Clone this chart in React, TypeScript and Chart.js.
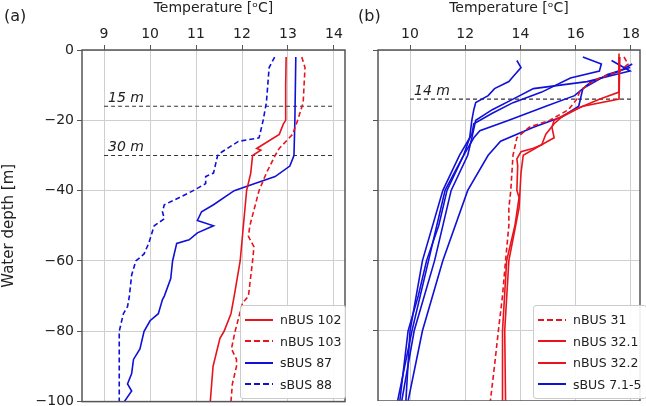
import React, { useEffect, useRef } from "react";
import { Chart, registerables } from "chart.js";

Chart.register(...registerables);

const FONT = "'DejaVu Sans', sans-serif";
const RED = "#e8141c";
const BLUE = "#1010d8";

// panel (a) profiles: [temperature, depth]
const nBus102: number[][] = [
  [12.96, -2], [12.95, -10], [12.95, -20], [12.9, -21], [12.81, -24], [12.32, -28], [12.41, -28.5],
  [12.23, -30], [12.19, -35], [12.1, -40], [12.03, -50], [11.96, -60], [11.83, -70], [11.76, -75],
  [11.61, -80], [11.52, -82], [11.37, -90], [11.34, -95], [11.31, -100],
];
const nBus103: number[][] = [
  [13.3, -2], [13.37, -5], [13.33, -15], [13.21, -20], [13.1, -24], [12.81, -28], [12.72, -30],
  [12.53, -35], [12.37, -40], [12.17, -50], [12.14, -53], [12.26, -56], [12.23, -60], [12.14, -70],
  [12.01, -72], [11.85, -80], [11.77, -85], [11.88, -88], [11.88, -90], [11.79, -95], [11.76, -100],
];
const sBus87: number[][] = [
  [13.17, -2], [13.15, -20], [13.13, -30], [13.04, -33], [12.72, -36], [12.28, -38], [11.83, -40],
  [11.38, -44], [11.12, -46], [11.03, -48.5], [11.38, -50], [11.03, -52], [10.85, -54], [10.58, -55],
  [10.49, -60], [10.45, -65], [10.31, -70], [10.27, -71], [10.18, -75], [10.0, -77], [9.87, -80],
  [9.78, -85], [9.64, -88], [9.6, -92], [9.51, -95], [9.6, -97], [9.44, -100],
];
const sBus88: number[][] = [
  [12.71, -2], [12.59, -5], [12.53, -15], [12.46, -20], [12.37, -25], [11.92, -26], [11.56, -29],
  [11.47, -30], [11.38, -35], [11.21, -36], [11.21, -38], [10.94, -40], [10.63, -42], [10.31, -44],
  [10.27, -46], [10.31, -48], [10.09, -50], [9.97, -55], [9.87, -58], [9.69, -60], [9.6, -64],
  [9.55, -70], [9.51, -73], [9.42, -75], [9.33, -80], [9.33, -90], [9.33, -100],
];

// panel (b) profiles
const nBus31: number[][] = [
  [17.75, -2], [17.9, -4], [17.6, -6], [16.86, -8], [16.41, -10], [16.14, -12], [16.04, -14],
  [15.74, -17], [15.07, -20], [14.32, -22], [13.87, -25], [13.73, -30], [13.65, -40], [13.58, -45],
  [13.58, -50], [13.46, -60], [13.35, -70], [13.2, -80], [13.06, -90], [12.91, -100],
];
const nBus321: number[][] = [
  [17.57, -1], [17.57, -5], [17.57, -12], [16.86, -14], [15.96, -17], [15.22, -20], [15.14, -22],
  [15.22, -25], [14.99, -26], [14.77, -27], [14.47, -28], [14.02, -29], [13.87, -31], [13.9, -33],
  [13.87, -40], [13.95, -42], [13.8, -50], [13.5, -60], [13.35, -80], [13.35, -100],
];
const nBus322: number[][] = [
  [17.6, -2], [17.57, -14], [16.26, -16], [15.51, -19], [15.22, -21], [14.92, -24], [14.77, -27],
  [14.1, -30], [14.02, -35], [13.95, -45], [13.58, -60], [13.43, -80], [13.46, -100],
];
const sBus71to5: number[][][] = [
  [[13.87, -3], [14.02, -5], [13.8, -7], [13.58, -9], [13.06, -11], [12.83, -13], [12.38, -15],
    [12.31, -17], [12.24, -20], [12.16, -25], [11.94, -30], [11.34, -40], [11.04, -50], [10.6, -60],
    [10.3, -70], [9.93, -80], [9.78, -90], [9.63, -100]],
  [[16.26, -2], [16.93, -4], [16.86, -6], [15.81, -8], [14.77, -12], [13.73, -15], [12.98, -18],
    [12.31, -21], [12.24, -24], [11.79, -30], [11.19, -40], [10.45, -60], [10.0, -80], [9.85, -100]],
  [[17.3, -3], [17.97, -6], [17.45, -7], [16.41, -9], [14.47, -11], [13.73, -14], [12.98, -17],
    [12.38, -20], [12.24, -25], [12.09, -30], [11.49, -40], [10.89, -60], [10.15, -80], [9.7, -100]],
  [[18.05, -4], [17.6, -6], [16.56, -9], [15.96, -13], [14.92, -16], [13.58, -20], [12.53, -23],
    [12.31, -25], [11.94, -30], [11.27, -40], [10.67, -60], [10.07, -80], [9.55, -100]],
  [[17.97, -5], [17.15, -7], [16.26, -11], [16.11, -16], [15.51, -19], [14.47, -22], [13.28, -26],
    [12.83, -30], [12.09, -40], [11.19, -60], [10.45, -80], [9.93, -100]],
];

const ticksA = [9, 10, 11, 12, 13, 14];
const ticksB = [10, 12, 14, 16, 18];
const depthTicks = [0, -20, -40, -60, -80, -100];
const markA = [{ depth: -16, label: "15 m" }, { depth: -30, label: "30 m" }];
const markB = [{ depth: -14, label: "14 m" }];

type Line = { pts: number[][]; color: string; dash?: boolean };
type Mark = { depth: number; label: string };

const frame = {
  id: "frame",
  afterDraw(chart: any) {
    const { ctx, chartArea: a } = chart;
    ctx.save();
    ctx.strokeStyle = "#555";
    ctx.lineWidth = 1.5;
    ctx.strokeRect(a.left, a.top, a.right - a.left, a.bottom - a.top);
    const marks: Mark[] = chart.options.plugins.marks.items;
    ctx.font = `italic 14px ${FONT}`;
    ctx.fillStyle = "#222";
    ctx.textBaseline = "bottom";
    marks.forEach((m) => {
      const x = chart.scales.x.getPixelForValue(chart.options.plugins.marks.from) + 4;
      ctx.fillText(m.label, x, chart.scales.y.getPixelForValue(m.depth) - 1);
    });
    ctx.restore();
  },
};

function Panel(props: {
  lines: Line[]; ticks: number[]; min: number; max: number; marks: Mark[];
  showY: boolean; yWidth: number; rightPad: number; width: number; height: number;
}) {
  const ref = useRef<HTMLCanvasElement | null>(null);
  useEffect(() => {
    if (!ref.current) return;
    const t0 = props.ticks[0];
    const t1 = props.ticks[props.ticks.length - 1];
    const datasets: any[] = props.lines.map((l) => ({
      data: l.pts.map((p) => ({ x: p[0], y: p[1] })),
      borderColor: l.color, borderWidth: 1.6, borderDash: l.dash ? [5, 3] : [],
      showLine: true, pointRadius: 0, tension: 0,
    }));
    props.marks.forEach((m) => datasets.push({
      data: [{ x: t0, y: m.depth }, { x: t1, y: m.depth }],
      borderColor: "#333", borderWidth: 1.2, borderDash: [4, 3], showLine: true, pointRadius: 0,
    }));
    const chart = new Chart(ref.current, {
      type: "scatter",
      data: { datasets },
      plugins: [frame],
      options: {
        animation: false, responsive: false, maintainAspectRatio: false,
        layout: { padding: { left: 0, right: props.rightPad, top: 0, bottom: 0 } },
        plugins: {
          legend: { display: false }, tooltip: { enabled: false },
          marks: { items: props.marks, from: t0 },
        } as any,
        scales: {
          x: {
            type: "linear", position: "top", min: props.min, max: props.max,
            afterBuildTicks: (s: any) => { s.ticks = props.ticks.map((v) => ({ value: v })); },
            afterFit: (s: any) => { s.height = 50; },
            grid: { color: "#cfcfcf", tickLength: 5, tickColor: "#555" },
            border: { display: false },
            ticks: { color: "#222", font: { family: FONT, size: 14 }, padding: 2, maxRotation: 0 },
            title: { display: true, text: "Temperature [ᵒC]", color: "#222", font: { family: FONT, size: 14 }, padding: 0 },
          },
          y: {
            type: "linear", min: -100, max: 0,
            afterBuildTicks: (s: any) => { s.ticks = depthTicks.map((v) => ({ value: v })); },
            afterFit: (s: any) => { s.width = props.yWidth; },
            grid: { color: "#cfcfcf", tickLength: 5, tickColor: "#555" },
            border: { display: false },
            ticks: {
              display: props.showY, color: "#222", font: { family: FONT, size: 14 }, padding: 3,
              callback: (v: any) => String(v).replace("-", "−"),
            },
            title: { display: props.showY, text: "Water depth [m]", color: "#222", font: { family: FONT, size: 15 }, padding: { top: 0, bottom: 6 } },
          },
        },
      } as any,
    });
    return () => chart.destroy();
  }, []);
  return <canvas ref={ref} width={props.width} height={props.height} style={{ display: "block" }} />;
}

function Legend(props: { items: Line[]; style: React.CSSProperties }) {
  return (
    <div style={{ position: "absolute", background: "rgba(255,255,255,0.9)", border: "1px solid #ccc",
      borderRadius: 3, padding: "3px 4px", font: `12.5px ${FONT}`, color: "#222", whiteSpace: "nowrap", ...props.style }}>
      {props.items.map((it, i) => (
        <div key={i} style={{ display: "flex", alignItems: "center", height: 21.5 }}>
          <svg width={28} height={6} style={{ marginRight: 7 }}>
            <line x1={0} y1={3} x2={28} y2={3} stroke={it.color} strokeWidth={2} strokeDasharray={it.dash ? "6 3" : undefined} />
          </svg>
          {it.pts[0]}
        </div>
      ))}
    </div>
  );
}

export default function App() {
  document.body.style.margin = "0";
  const linesA: Line[] = [
    { pts: nBus102, color: RED }, { pts: nBus103, color: RED, dash: true },
    { pts: sBus87, color: BLUE }, { pts: sBus88, color: BLUE, dash: true },
  ];
  const linesB: Line[] = [
    { pts: nBus31, color: RED, dash: true }, { pts: nBus321, color: RED }, { pts: nBus322, color: RED },
    ...sBus71to5.map((p) => ({ pts: p, color: BLUE })),
  ];
  const legA: any[] = [
    { pts: ["nBUS 102"], color: RED }, { pts: ["nBUS 103"], color: RED, dash: true },
    { pts: ["sBUS 87"], color: BLUE }, { pts: ["sBUS 88"], color: BLUE, dash: true },
  ];
  const legB: any[] = [
    { pts: ["nBUS 31"], color: RED, dash: true }, { pts: ["nBUS 32.1"], color: RED },
    { pts: ["nBUS 32.2"], color: RED }, { pts: ["sBUS 7.1-5"], color: BLUE },
  ];
  return (
    <div style={{ position: "relative", width: 646, height: 406, overflow: "hidden", background: "#fff" }}>
      <div style={{ position: "absolute", left: 0, top: 0 }}>
        <Panel lines={linesA} ticks={ticksA} min={8.52} max={14.24} marks={markA} showY={true} yWidth={82} rightPad={15} width={360} height={413} />
      </div>
      <div style={{ position: "absolute", left: 360, top: 0 }}>
        <Panel lines={linesB} ticks={ticksB} min={8.84} max={18.33} marks={markB} showY={false} yWidth={18} rightPad={6} width={286} height={401} />
      </div>
      <div style={{ position: "absolute", left: 4, top: 6, font: `16px ${FONT}`, color: "#222" }}>(a)</div>
      <div style={{ position: "absolute", left: 358, top: 6, font: `16px ${FONT}`, color: "#222" }}>(b)</div>
      <Legend items={legA} style={{ left: 240, top: 305 }} />
      <Legend items={legB} style={{ left: 533, top: 305 }} />
    </div>
  );
}
